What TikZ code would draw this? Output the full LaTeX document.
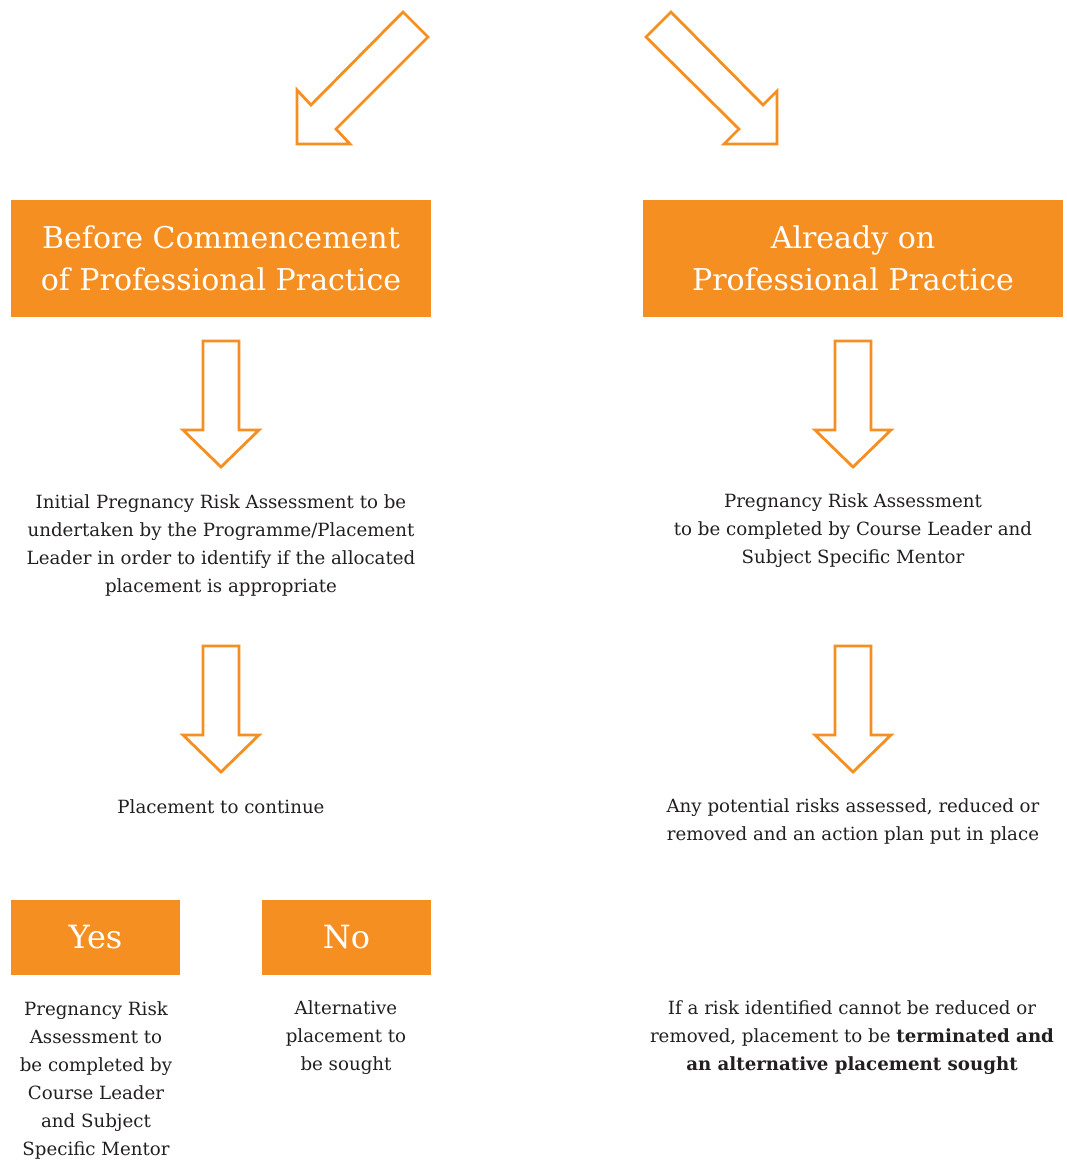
\documentclass[tikz,border=0pt]{standalone}
\usepackage{fontspec}
\setmainfont{DejaVu Serif}
\definecolor{orng}{HTML}{F58F21}
\definecolor{txtc}{HTML}{231F20}
\begin{document}
\begin{tikzpicture}[x=1pt,y=-1pt,
 box/.style={fill=orng,draw=none,text=white,inner sep=0pt,align=center,font=\fontsize{30}{42}\selectfont},
 body/.style={text=txtc,align=center,font=\fontsize{18.2}{28}\selectfont,inner sep=0pt},
 barrow/.style={draw=orng,line width=2.8pt,fill=white,line join=miter},
 dnarrow/.pic={\draw[barrow] (-18,0) -- (18,0) -- (18,89) -- (38,89) -- (0,126) -- (-38,89) -- (-18,89) -- cycle;}]
\useasboundingbox (0,0) rectangle (1067,1160);
% diagonal arrows
\draw[barrow] (403,12) -- (428,37) -- (336,129) -- (350,144) -- (297,144) -- (297,90) -- (311,105) -- cycle;
\draw[barrow] (671,12) -- (646,37) -- (739,129) -- (724,144) -- (777,144) -- (777,91) -- (763,105) -- cycle;
% header boxes
\node[box,minimum width=420,minimum height=117] (before) at (221,258.5) {Before Commencement\\of Professional Practice};
\node[box,minimum width=420,minimum height=117] (already) at (853,258.5) {Already on\\Professional Practice};
% down arrows
\pic at (221,341) {dnarrow};
\pic at (853,341) {dnarrow};
\pic at (221,646) {dnarrow};
\pic at (853,646) {dnarrow};
% texts
\node[body] (initial) at (221,545) {Initial Pregnancy Risk Assessment to be\\undertaken by the Programme/Placement\\Leader in order to identify if the allocated\\placement is appropriate};
\node[body] (pra) at (853,531) {Pregnancy Risk Assessment\\to be completed by Course Leader and\\Subject Specific Mentor};
\node[body] (cont) at (221,807) {Placement to continue};
\node[body] (risks) at (853,821) {Any potential risks assessed, reduced or\\removed and an action plan put in place};
% yes / no
\node[box,font=\fontsize{32}{42}\selectfont,minimum width=169,minimum height=75] (yes) at (95.5,937.5) {Yes};
\node[box,font=\fontsize{32}{42}\selectfont,minimum width=169,minimum height=75] (no) at (346.5,937.5) {No};
\node[body] (yestext) at (96,1080) {Pregnancy Risk\\Assessment to\\be completed by\\Course Leader\\and Subject\\Specific Mentor};
\node[body] (notext) at (346,1038) {Alternative\\placement to\\be sought};
\node[body] (term) at (852,1038) {If a risk identified cannot be reduced or\\removed, placement to be \textbf{terminated and}\\\textbf{an alternative placement sought}};
\end{tikzpicture}
\end{document}
